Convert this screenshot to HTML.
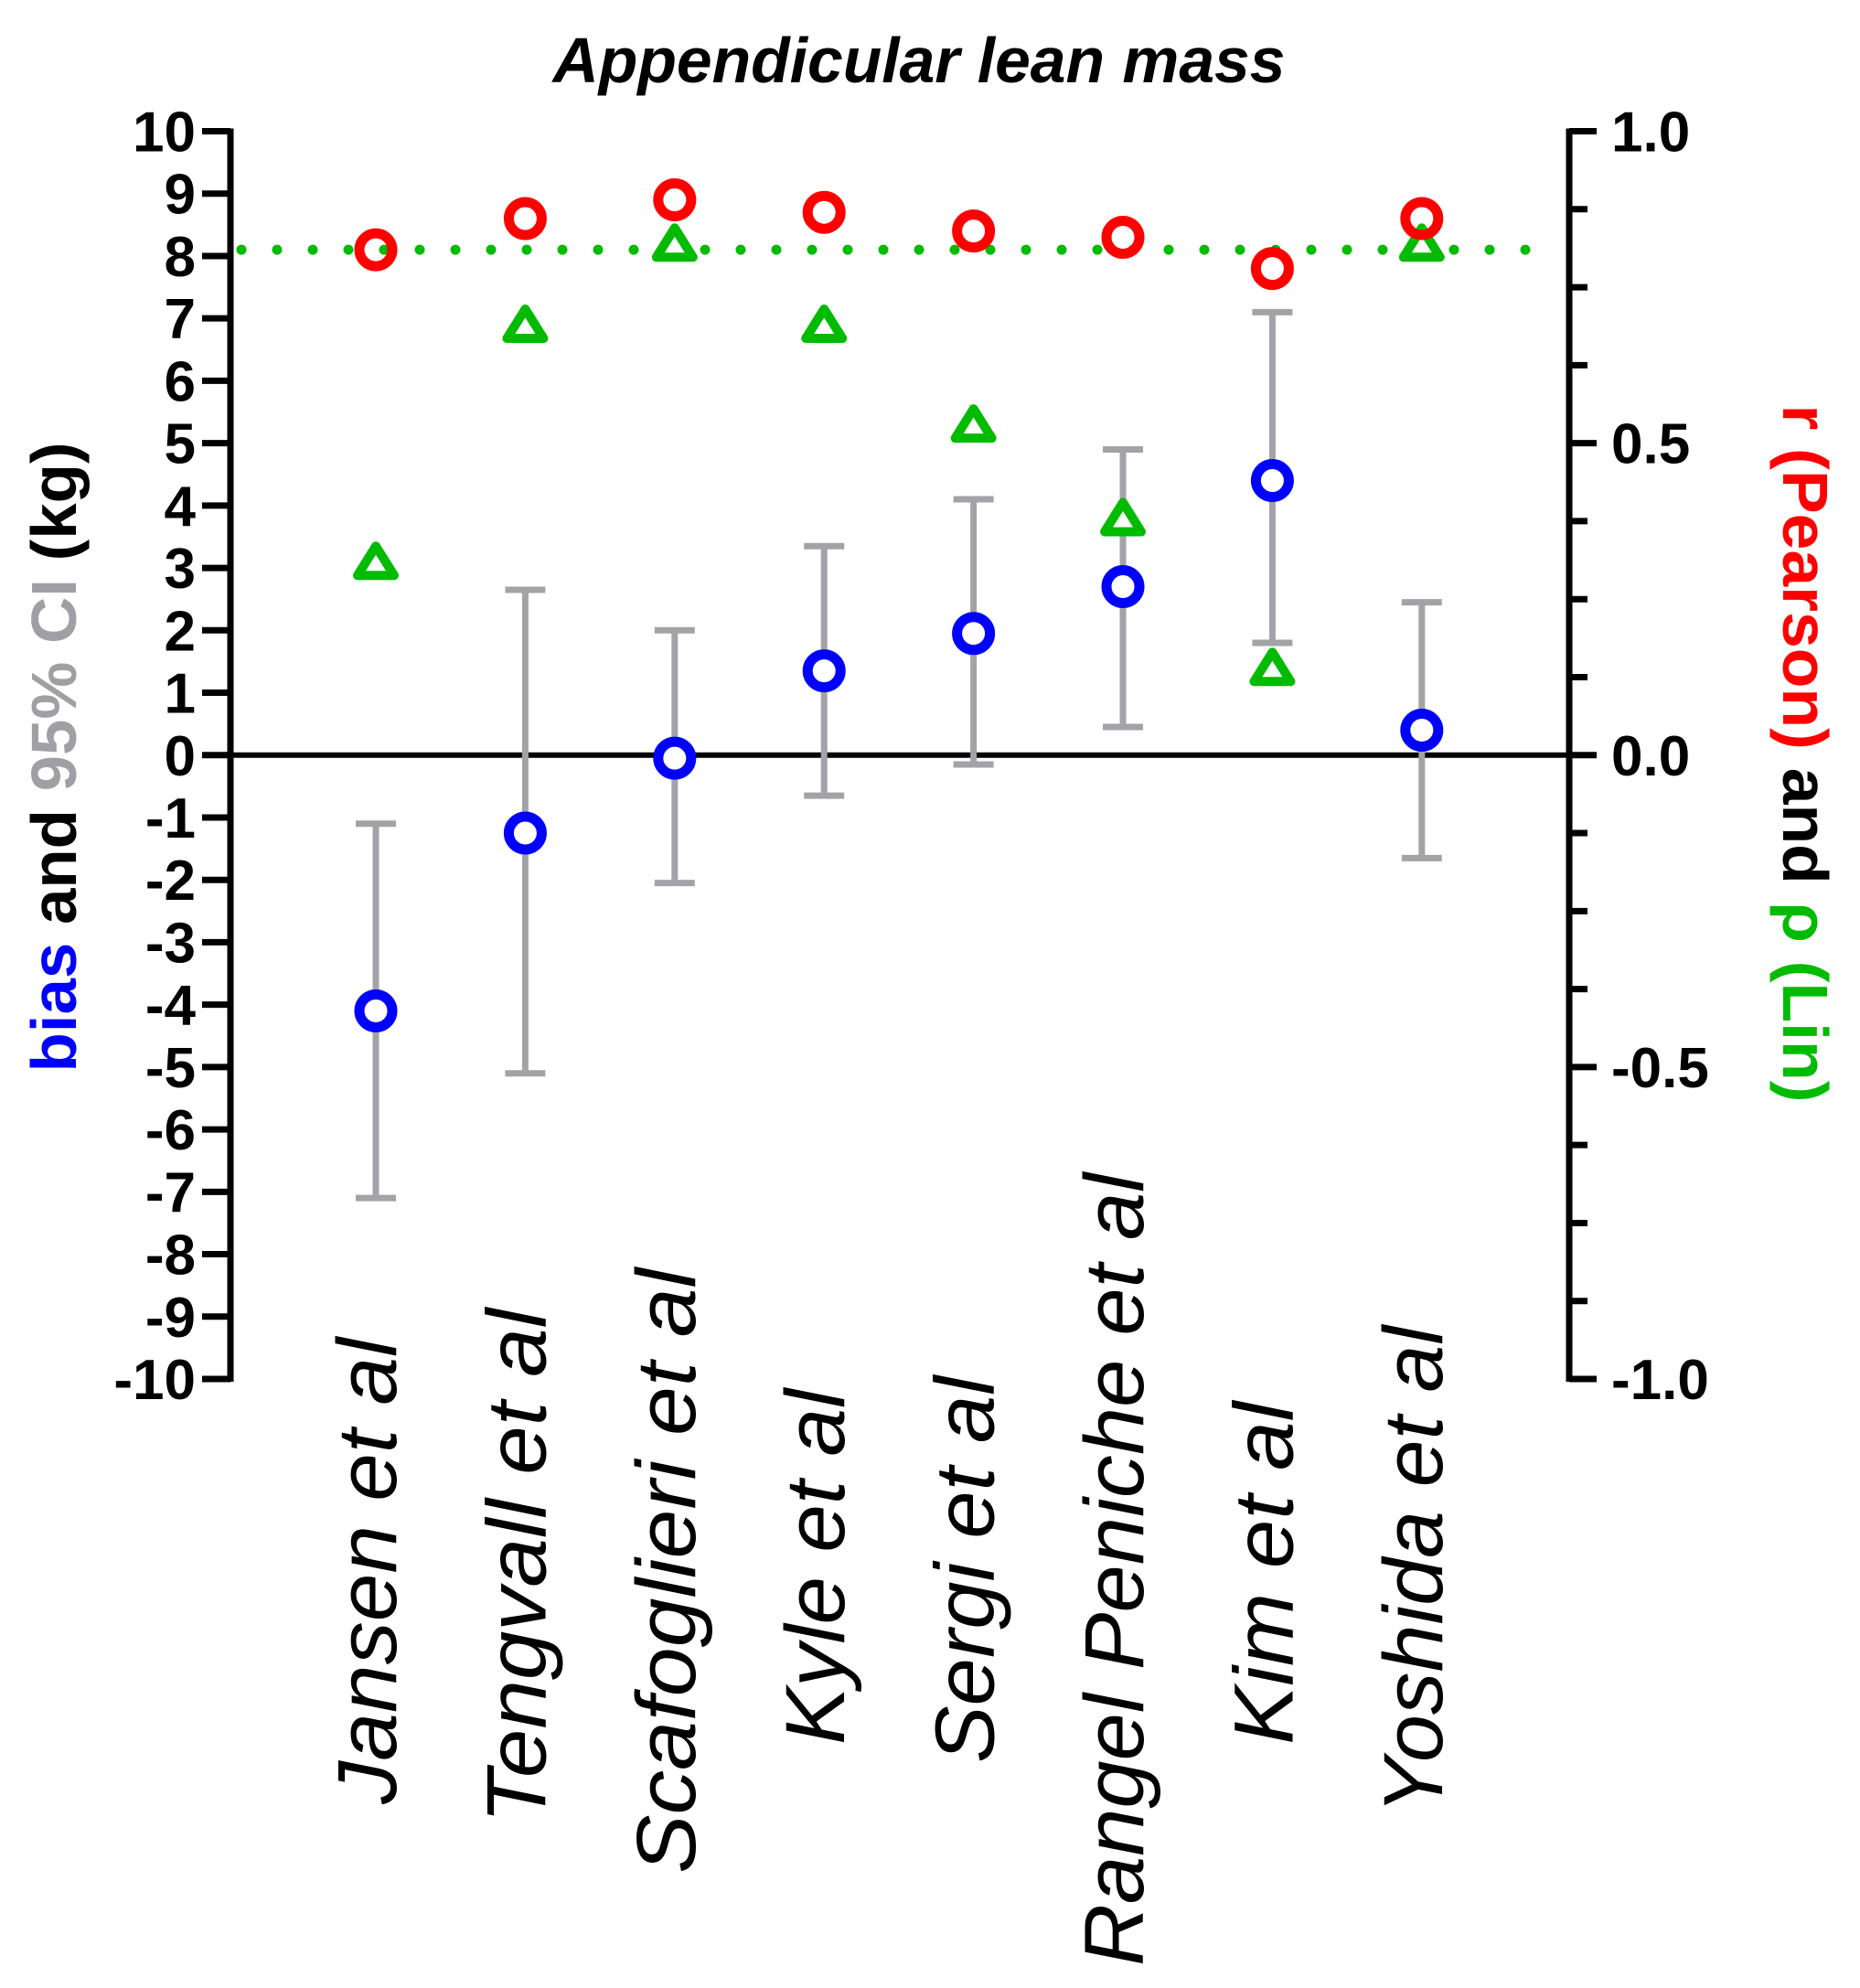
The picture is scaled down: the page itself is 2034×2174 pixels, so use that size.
<!DOCTYPE html>
<html><head><meta charset="utf-8"><style>
html,body{margin:0;padding:0;background:#fff}
svg{display:block}
text{font-family:"Liberation Sans",Arial,sans-serif}
</style></head><body>
<svg id="chart" width="2034" height="2174" viewBox="0 0 2034 2174" xmlns="http://www.w3.org/2000/svg">
<text x="1005" y="90" font-size="70" font-weight="bold" font-style="italic" text-anchor="middle" textLength="801" lengthAdjust="spacingAndGlyphs">Appendicular lean mass</text>
<text transform="translate(83,828) rotate(-90)" font-size="70" font-weight="bold" text-anchor="middle" textLength="689" lengthAdjust="spacingAndGlyphs"><tspan fill="#0000ff">bias</tspan><tspan fill="#000"> and </tspan><tspan fill="#a0a0a4">95% CI</tspan><tspan fill="#000"> (kg)</tspan></text>
<text transform="translate(1950,824) rotate(90)" font-size="70" font-weight="bold" text-anchor="middle" textLength="763" lengthAdjust="spacingAndGlyphs"><tspan fill="#ff0000">r (Pearson)</tspan><tspan fill="#000"> and </tspan><tspan fill="#00bb00">ρ (Lin)</tspan></text>
<g id="g"></g>
</svg>
<script>
const categories=["Jansen et al","Tengvall et al","Scafoglieri et al","Kyle et al","Sergi et al","Rangel Peniche et al","Kim et al","Yoshida et al"];
const bias=[-4.1,-1.25,-0.05,1.35,1.95,2.7,4.4,0.4];
const ciLow=[-7.1,-5.1,-2.05,-0.65,-0.15,0.45,1.8,-1.65];
const ciHigh=[-1.1,2.65,2.0,3.35,4.1,4.9,7.1,2.45];
const pearson=[0.81,0.86,0.89,0.87,0.84,0.83,0.78,0.86];
const lin=[0.31,0.69,0.82,0.69,0.53,0.38,0.14,0.82];
const linRef=0.81;
const leftTicks=[10,9,8,7,6,5,4,3,2,1,0,-1,-2,-3,-4,-5,-6,-7,-8,-9,-10];
const rightMajor=[1.0,0.5,0.0,-0.5,-1.0];
const labelTop=[1463,1431,1387,1519,1505,1283,1533,1450];
const labelLen=[510,563,662,389,423,867,375,534];

const NS="http://www.w3.org/2000/svg";
const g=document.getElementById('g');
const AXL=252,AXR=1716,Y10=143.5,YM10=1508;
const yL=v=>Y10+(10-v)*(YM10-Y10)/20;
const yR=v=>Y10+(1-v)*(YM10-Y10)/2;
const xC=i=>411+i*163.4;
function mk(tag,attrs,parent){const e=document.createElementNS(NS,tag);for(const k in attrs)e.setAttribute(k,attrs[k]);(parent||g).appendChild(e);return e;}

let e=mk('line',{x1:AXL,y1:Y10-3,x2:AXL,y2:YM10+3,stroke:'#000','stroke-width':7});


e=mk('line',{x1:AXR,y1:Y10-3,x2:AXR,y2:YM10+3,stroke:'#000','stroke-width':7});


e=mk('line',{x1:AXL,y1:yL(0),x2:AXR,y2:yL(0),stroke:'#000','stroke-width':6});



leftTicks.forEach(v=>{
  let t=mk('line',{x1:AXL-31,y1:yL(v),x2:AXL,y2:yL(v),stroke:'#000','stroke-width':7});
  
  
  let l=mk('text',{x:214,y:yL(v)+22,'font-size':62,'font-weight':'bold','text-anchor':'end'});
  l.textContent=String(v);
  
  
});
for(let k=0;k<=16;k++){
  const v=1-k*0.125;
  const major=(k%4===0);
  let t=mk('line',{x1:AXR,y1:yR(v),x2:AXR+(major?30:20),y2:yR(v),stroke:'#000','stroke-width':7});
  
  
}
rightMajor.forEach(v=>{
  let l=mk('text',{x:1762,y:yR(v)+22,'font-size':62,'font-weight':'bold'});
  l.textContent=(v<0?'-':'')+Math.abs(v).toFixed(1);
  
  
});

e=mk('line',{x1:AXL+12,y1:yR(linRef),x2:1700,y2:yR(linRef),stroke:'#00bb00','stroke-width':11,'stroke-linecap':'round','stroke-dasharray':'0 39'});



categories.forEach((c,i)=>{
  const x=xC(i);
  const eb=mk('g',{});
  
  
  mk('line',{x1:x,y1:yL(ciLow[i]),x2:x,y2:yL(ciHigh[i]),stroke:'#a3a3a7','stroke-width':7},eb);
  mk('line',{x1:x-22,y1:yL(ciLow[i]),x2:x+22,y2:yL(ciLow[i]),stroke:'#a3a3a7','stroke-width':7},eb);
  mk('line',{x1:x-22,y1:yL(ciHigh[i]),x2:x+22,y2:yL(ciHigh[i]),stroke:'#a3a3a7','stroke-width':7},eb);

  let b=mk('circle',{cx:x,cy:yL(bias[i]),r:18,fill:'#fff',stroke:'#0000ff','stroke-width':11});
  
  

  const ty=yR(lin[i]);
  let tr=mk('polygon',{points:`${x},${ty-17} ${x+20},${ty+15} ${x-20},${ty+15}`,fill:'#fff',stroke:'#00bb00','stroke-width':10,'stroke-linejoin':'round'});
  
  

  let p=mk('circle',{cx:x,cy:yR(pearson[i]),r:18,fill:'none',stroke:'#ff0000','stroke-width':11});
  
  

  let l=mk('text',{transform:`translate(${x+22},${labelTop[i]}) rotate(-90)`,'font-size':92,'font-style':'italic','text-anchor':'end',textLength:labelLen[i],lengthAdjust:'spacingAndGlyphs'});
  l.textContent=c;
  
  
});
</script>
</body></html>
